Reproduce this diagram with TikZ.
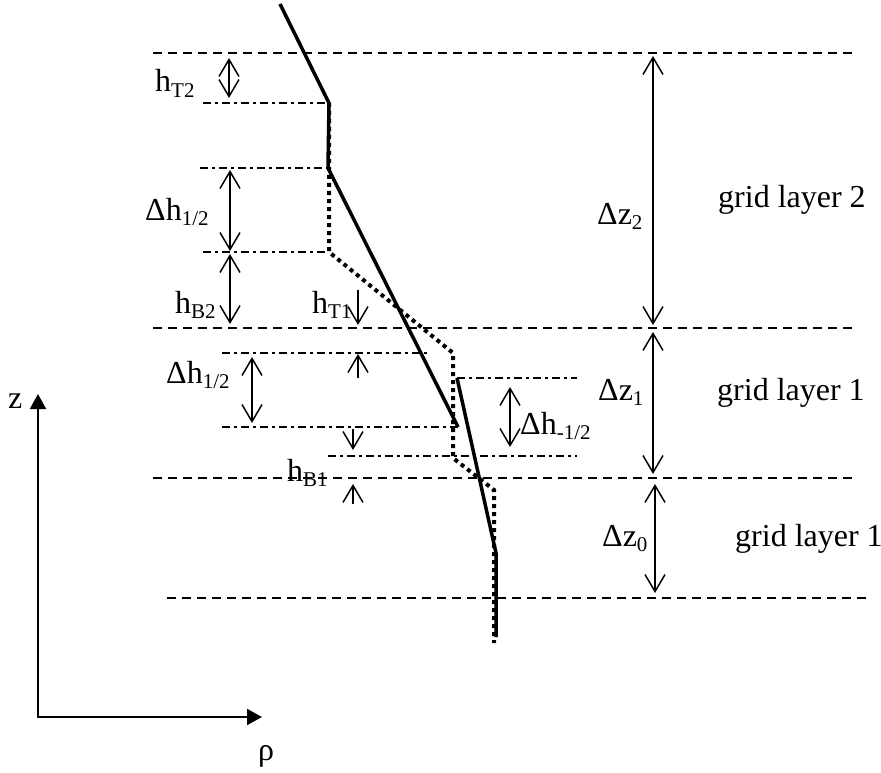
\documentclass[tikz,border=0pt]{standalone}
\usepackage{fontspec}
\setmainfont{Liberation Serif}
\usetikzlibrary{arrows.meta}
\newcommand\lsub[1]{\raisebox{-0.17em}{\fontsize{21}{21}\selectfont #1}}
\begin{document}
\begin{tikzpicture}[x=1pt,y=-1pt,
  gridline/.style={dash pattern=on 9pt off 6pt, line width=1.6pt},
  dashdot/.style={dash pattern=on 8pt off 4pt on 3pt off 4pt, line width=1.5pt},
  profile/.style={line width=3.5pt},
  dotprof/.style={line width=4pt, dash pattern=on 4pt off 4pt},
  barb/.tip={Straight Barb[length=17pt,width=20pt]},
  dim/.style={line width=1.5pt, barb-barb},
  sarrow/.style={line width=1.5pt, -barb},
  axis/.style={line width=2pt},
  lbl/.style={inner sep=0pt, anchor=base west, font=\fontsize{32}{38}\selectfont}
]
\useasboundingbox (0,0) rectangle (881,773);

% grid boundaries (dashed)
\coordinate (g3l) at (153,53);  \coordinate (g3r) at (855,53);
\coordinate (g2l) at (153,328); \coordinate (g2r) at (855,328);
\coordinate (g1l) at (153,478); \coordinate (g1r) at (855,478);
\coordinate (g0l) at (167,598); \coordinate (g0r) at (870,598);
\draw[gridline] (g3l) -- (g3r);
\draw[gridline] (g2l) -- (g2r);
\draw[gridline] (g1l) -- (g1r);
\draw[gridline] (g0l) -- (g0r);

% dash-dot levels
\coordinate (d1l) at (203,103); \coordinate (d1r) at (329,103);
\coordinate (d2l) at (200,168); \coordinate (d2r) at (328,168);
\coordinate (d3l) at (203,252); \coordinate (d3r) at (329,252);
\coordinate (d4l) at (222,353); \coordinate (d4r) at (427,353);
\coordinate (d5l) at (457,378); \coordinate (d5r) at (577,378);
\coordinate (d6l) at (222,427); \coordinate (d6r) at (458,427);
\coordinate (d7l) at (328,456); \coordinate (d7r) at (577,456);
\foreach \n in {1,...,7} {\draw[dashdot] (d\n l) -- (d\n r);}

% dotted profile
\coordinate (q1) at (329,103);
\coordinate (q2) at (329,252);
\coordinate (q3) at (453,353);
\coordinate (q4) at (453,458);
\coordinate (q5) at (494,490);
\coordinate (q6) at (494,643);
\draw[dotprof] (q1) -- (q2) -- (q3) -- (q4) -- (q5) -- (q6);

% solid profile
\coordinate (p1) at (280,4);
\coordinate (p2) at (329,103);
\coordinate (p3) at (328,168);
\coordinate (p4) at (458,427);
\coordinate (p5) at (457,378);
\coordinate (p6) at (496,553);
\coordinate (p7) at (496,637);
\draw[profile] (p1) -- (p2) -- (p3) -- (p4);
\draw[profile] (p5) -- (p6) -- (p7);

% dimension arrows
\coordinate (a1t) at (229,58);  \coordinate (a1b) at (229,98);
\coordinate (a2t) at (230,170); \coordinate (a2b) at (230,251);
\coordinate (a3t) at (230,254); \coordinate (a3b) at (230,324);
\coordinate (a4t) at (358,290); \coordinate (a4b) at (358,325);
\coordinate (a5t) at (358,354); \coordinate (a5b) at (358,378);
\coordinate (a6t) at (252,357); \coordinate (a6b) at (252,423);
\coordinate (a7t) at (353,429); \coordinate (a7b) at (353,450);
\coordinate (a8t) at (353,484); \coordinate (a8b) at (353,504);
\coordinate (a9t) at (510,387); \coordinate (a9b) at (510,447);
\coordinate (z2t) at (653,56);  \coordinate (z2b) at (653,325);
\coordinate (z1t) at (653,332); \coordinate (z1b) at (653,474);
\coordinate (z0t) at (655,484); \coordinate (z0b) at (655,593);
\draw[dim] (a1t) -- (a1b);
\draw[dim] (a2t) -- (a2b);
\draw[dim] (a3t) -- (a3b);
\draw[sarrow] (a4t) -- (a4b);
\draw[sarrow] (a5b) -- (a5t);
\draw[dim] (a6t) -- (a6b);
\draw[sarrow] (a7t) -- (a7b);
\draw[sarrow] (a8b) -- (a8t);
\draw[dim] (a9t) -- (a9b);
\draw[dim] (z2t) -- (z2b);
\draw[dim] (z1t) -- (z1b);
\draw[dim] (z0t) -- (z0b);

% axes
\coordinate (ztip) at (38,394);
\coordinate (orig) at (38,717);
\coordinate (rtip) at (262,717);
\draw[axis, {Triangle[length=15pt,width=16pt]}-{Triangle[length=15pt,width=16pt]}] (ztip) -- (orig) -- (rtip);

% labels
\node[lbl] (lhT2) at (155,92) {h\lsub{T2}};
\node[lbl] (ldh1) at (145,220) {Δh\lsub{1/2}};
\node[lbl] (lhB2) at (175,313) {h\lsub{B2}};
\node[lbl] (lhT1) at (312,313) {h\lsub{T1}};
\node[lbl] (ldh2) at (166,383) {Δh\lsub{1/2}};
\node[lbl] (lhB1) at (287,481) {h\lsub{B1}};
\node[lbl] (ldhm) at (520,434) {Δh\lsub{-1/2}};
\node[lbl] (ldz2) at (597,224) {Δz\lsub{2}};
\node[lbl] (ldz1) at (598,400) {Δz\lsub{1}};
\node[lbl] (ldz0) at (602,546) {Δz\lsub{0}};
\node[lbl] (lg2) at (718,207) {grid layer 2};
\node[lbl] (lg1) at (717,400) {grid layer 1};
\node[lbl] (lg0) at (735,546) {grid layer 1};
\node[lbl] (lz) at (8,408) {z};
\node[lbl] (lrho) at (258,760) {ρ};
\end{tikzpicture}
\end{document}
